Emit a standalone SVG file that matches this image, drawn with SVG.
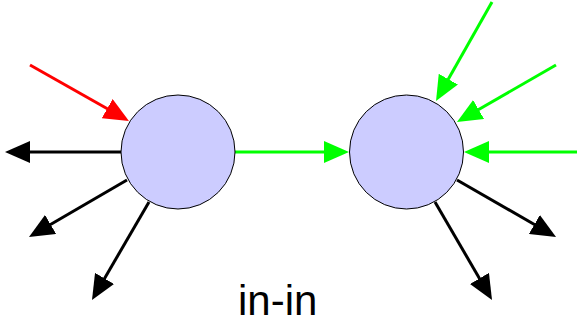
<svg xmlns="http://www.w3.org/2000/svg" width="577" height="325" viewBox="0 0 577 325">
  <defs>
    <style>
      .node { fill: #ccccff; stroke: #000; stroke-width: 1; }
      .e { fill: none; stroke-width: 3; }
      .blk { stroke: #000; }
      .red { stroke: #ff0000; }
      .grn { stroke: #00ff00; }
      .lbl { font-family: "Liberation Sans", Arial, sans-serif; font-size: 42px; fill: #000; }
    </style>
    <marker id="hb" markerUnits="userSpaceOnUse" markerWidth="25" markerHeight="22" refX="20" refY="11" orient="auto" viewBox="0 0 25 22">
      <path d="M0,0 L25,11 L0,22 z" fill="#000"/>
    </marker>
    <marker id="hr" markerUnits="userSpaceOnUse" markerWidth="25" markerHeight="22" refX="20" refY="11" orient="auto" viewBox="0 0 25 22">
      <path d="M0,0 L25,11 L0,22 z" fill="#ff0000"/>
    </marker>
    <marker id="hg" markerUnits="userSpaceOnUse" markerWidth="25" markerHeight="22" refX="20" refY="11" orient="auto" viewBox="0 0 25 22">
      <path d="M0,0 L25,11 L0,22 z" fill="#00ff00"/>
    </marker>
  </defs>
  <rect width="577" height="325" fill="#fff"/>
  <g id="connectors">
    <line class="e red" x1="30" y1="65" x2="124.6" y2="118.5" marker-end="url(#hr)"/>
    <line class="e blk" x1="121" y1="152" x2="10" y2="152" marker-end="url(#hb)"/>
    <line class="e blk" x1="127" y1="180" x2="33.3" y2="234.5" marker-end="url(#hb)"/>
    <line class="e blk" x1="149" y1="202" x2="94.5" y2="295.7" marker-end="url(#hb)"/>
    <line class="e grn" x1="235" y1="152" x2="344" y2="152" marker-end="url(#hg)"/>
    <line class="e grn" x1="492" y1="2" x2="438.5" y2="96.6" marker-end="url(#hg)"/>
    <line class="e grn" x1="556" y1="65" x2="461.3" y2="119.5" marker-end="url(#hg)"/>
    <line class="e grn" x1="577" y1="152" x2="469" y2="152" marker-end="url(#hg)"/>
    <line class="e blk" x1="457" y1="180" x2="551.7" y2="234.5" marker-end="url(#hb)"/>
    <line class="e blk" x1="435" y1="202" x2="489.5" y2="295.7" marker-end="url(#hb)"/>
  </g>
  <g id="node-left">
    <circle class="node" cx="178" cy="152" r="57"/>
  </g>
  <g id="node-right">
    <circle class="node" cx="406.5" cy="152" r="57"/>
  </g>
  <g id="label">
    <text class="lbl" x="238" y="315">in-in</text>
  </g>
</svg>
